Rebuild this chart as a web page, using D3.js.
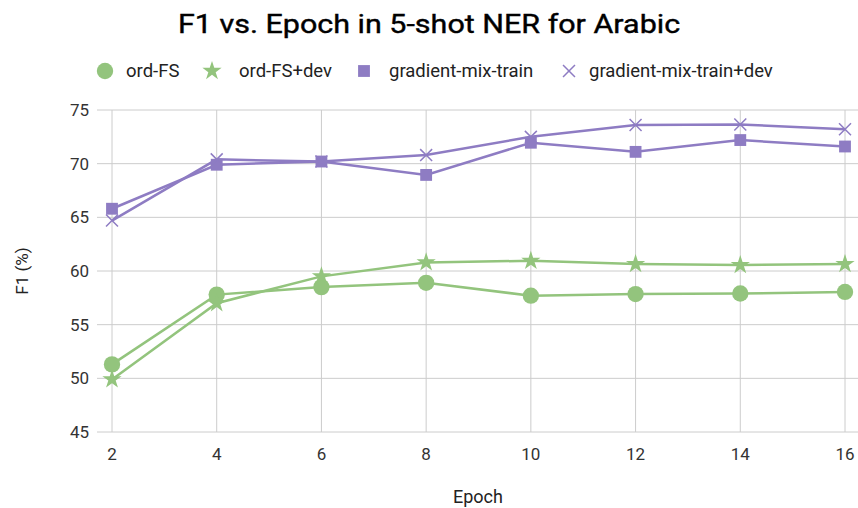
<!DOCTYPE html>
<html>
<head>
<meta charset="utf-8">
<script src="https://cdn.jsdelivr.net/npm/d3@7"></script>
<style>
  body { margin: 0; background: #fff; }
  text { font-family: Roboto, "Liberation Sans", Arial, sans-serif; }
</style>
</head>
<body>
<div id="chart"></div>
<script>
const epochs = [2, 4, 6, 8, 10, 12, 14, 16];
const ordFS = [51.3, 57.8, 58.5, 58.9, 57.7, 57.85, 57.9, 58.05];
const ordFSdev = [49.9, 57.0, 59.5, 60.8, 60.95, 60.65, 60.55, 60.65];
const gradMixTrain = [65.8, 69.9, 70.2, 68.95, 71.95, 71.1, 72.2, 71.6];
const gradMixTrainDev = [64.7, 70.4, 70.2, 70.8, 72.5, 73.6, 73.65, 73.2];
const yTicks = [45, 50, 55, 60, 65, 70, 75];

const series = [
  { name: "ord-FS", values: ordFS, color: "#93c47d", symbol: d3.symbolCircle, size: 210 },
  { name: "ord-FS+dev", values: ordFSdev, color: "#93c47d", symbol: d3.symbolStar, size: 115 },
  { name: "gradient-mix-train", values: gradMixTrain, color: "#8e7cc3", symbol: d3.symbolSquare, size: 140 },
  { name: "gradient-mix-train+dev", values: gradMixTrainDev, color: "#8e7cc3", symbol: d3.symbolX, size: 95 }
];

const width = 858, height = 508;
const svg = d3.select("#chart").append("svg")
  .attr("width", width).attr("height", height);

const x = d3.scaleLinear().domain([2, 16]).range([112, 845]);
const y = d3.scaleLinear().domain([45, 75]).range([432, 110]);

// grid
svg.append("g").selectAll("line.h").data(yTicks).enter().append("line")
  .attr("x1", 97).attr("x2", 858)
  .attr("y1", d => y(d)).attr("y2", d => y(d))
  .attr("stroke", "#cccccc").attr("stroke-width", 1);
svg.append("g").selectAll("line.v").data(epochs).enter().append("line")
  .attr("x1", d => x(d)).attr("x2", d => x(d))
  .attr("y1", y(75)).attr("y2", y(45))
  .attr("stroke", "#cccccc").attr("stroke-width", 1);

// tick labels
svg.append("g").selectAll("text").data(yTicks).enter().append("text")
  .attr("x", 89).attr("y", d => y(d)).attr("dy", "0.35em")
  .attr("text-anchor", "end").attr("font-size", 17).attr("fill", "#333")
  .text(d => d);
svg.append("g").selectAll("text").data(epochs).enter().append("text")
  .attr("x", d => x(d)).attr("y", 460)
  .attr("text-anchor", "middle").attr("font-size", 17).attr("fill", "#333")
  .text(d => d);

// titles (reference title is a bit wider than plain Arial, so stretch it)
svg.append("text").attr("transform", "translate(429,33) scale(1.15,1)")
  .attr("text-anchor", "middle")
  .attr("font-family", "'Liberation Sans', Arial, sans-serif")
  .attr("font-size", 26.5).attr("fill", "#000")
  .attr("stroke", "#000").attr("stroke-width", 0.4)
  .text("F1 vs. Epoch in 5-shot NER for Arabic");
svg.append("text").attr("x", 478).attr("y", 503).attr("text-anchor", "middle")
  .attr("font-size", 18).attr("fill", "#222").text("Epoch");
svg.append("text").attr("transform", "translate(28,271) rotate(-90)")
  .attr("text-anchor", "middle").attr("font-size", 17).attr("fill", "#222").text("F1 (%)");

// lines & markers
const line = d3.line().x((d, i) => x(epochs[i])).y(d => y(d));
series.forEach(s => {
  const g = svg.append("g");
  g.append("path").datum(s.values).attr("d", line)
    .attr("fill", "none").attr("stroke", s.color).attr("stroke-width", 2.5);
  g.selectAll("path.m").data(s.values).enter().append("path")
    .attr("class", "m")
    .attr("transform", (d, i) => `translate(${x(epochs[i])},${y(d)})`)
    .attr("d", d3.symbol().type(s.symbol).size(s.size))
    .attr("fill", s.color)
    .attr("stroke", s.symbol === d3.symbolX ? s.color : "none")
    .attr("stroke-width", 1.5);
});

// legend
const legendPos = [
  { mx: 105, tx: 126 },
  { mx: 212, tx: 239 },
  { mx: 364, tx: 389 },
  { mx: 569, tx: 589 }
];
const legend = svg.append("g");
series.forEach((s, i) => {
  legend.append("path")
    .attr("transform", `translate(${legendPos[i].mx},71)`)
    .attr("d", d3.symbol().type(s.symbol).size(s.size))
    .attr("fill", s.color)
    .attr("stroke", s.symbol === d3.symbolX ? s.color : "none")
    .attr("stroke-width", 1.5);
  legend.append("text").attr("x", legendPos[i].tx).attr("y", 71).attr("dy", "0.35em")
    .attr("font-size", 18.5).attr("fill", "#222").text(s.name);
});
</script>
</body>
</html>
